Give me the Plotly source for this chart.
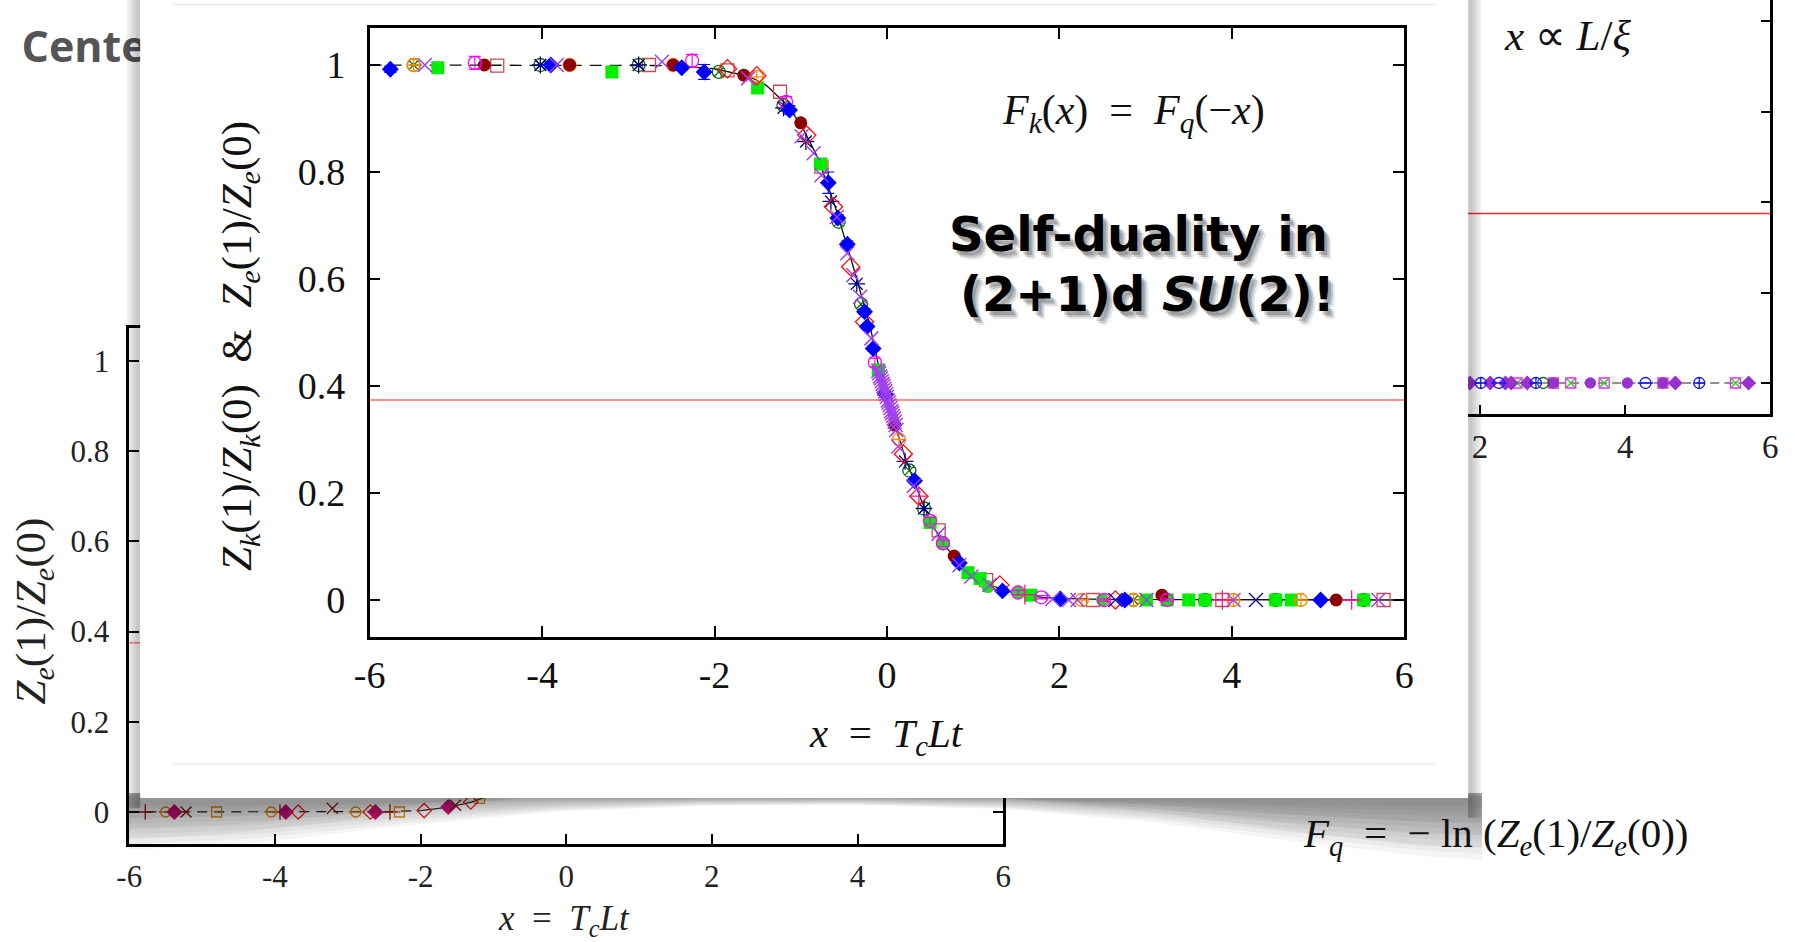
import plotly.graph_objects as go

W, H = 1795, 942

# ================= DATA =================
# --- main (front) plot: Z_k(1)/Z_k(0) & Z_e(1)/Z_e(0) vs x = T_c L t ---
main_xticks = [-6, -4, -2, 0, 2, 4, 6]
main_xticklabels = ["-6", "-4", "-2", "0", "2", "4", "6"]
main_yticks = [0, 0.2, 0.4, 0.6, 0.8, 1]
main_yticklabels = ["0", "0.2", "0.4", "0.6", "0.8", "1"]

fit_x = [-6, -4, -2.5, -2.0, -1.6, -1.4, -1.2, -1.0, -0.8, -0.6, -0.4, -0.2, -0.1, 0.0,
         0.1, 0.2, 0.3, 0.4, 0.5, 0.6, 0.7, 0.8, 1.0, 1.2, 1.4, 1.6, 1.8, 2.0, 2.5, 4.0, 6.0]
fit_y = [1.0, 1.0, 0.999, 0.993, 0.979, 0.962, 0.932, 0.89, 0.826, 0.735, 0.628, 0.515, 0.44, 0.375,
         0.325, 0.272, 0.228, 0.186, 0.148, 0.12, 0.096, 0.077, 0.047, 0.028, 0.016, 0.009, 0.005, 0.003, 0.001, 0.0, 0.0]
fit_split = -2.0
red_level_main = 0.374

blue_x = [-5.76, -3.90, -2.38, -2.12, -1.13, -0.68, -0.57, -0.46, -0.26, -0.23, -0.16, -0.02, 0.32, 0.84, 1.34, 2.01, 2.76, 5.03]
blue_y = [0.992, 1.0, 0.995, 0.987, 0.916, 0.78, 0.714, 0.665, 0.539, 0.511, 0.47, 0.385, 0.223, 0.069, 0.017, 0.002, 0.0, 0.0]
blue_err = [0.006, 0.003, 0.004, 0.014, 0.008, 0.02, 0.006, 0.006, 0.005, 0.004, 0.004, 0.004, 0.004, 0.003, 0.002, 0.001, 0.001, 0.001]

orange_x = [-5.49, -3.68, -2.48, -1.51, 0.14, 2.26, 2.86, 4.02, 4.80]
orange_y = [1.0, 1.0, 1.0, 0.978, 0.300, 0.0, 0.0, 0.0, 0.0]

purple_x = [-5.36, -3.83, -2.61, -1.61, -0.99, -0.85, -0.76, -0.58, -0.46, -0.39, -0.31, -0.18,
            -0.10, -0.09, -0.08, -0.07, -0.06, -0.05, -0.04, -0.03, -0.02, -0.01, 0.0, 0.01, 0.02,
            0.03, 0.04, 0.05, 0.06, 0.07, 0.08, 0.09, 0.10, 0.11, 0.13,
            0.31, 0.60, 0.84, 0.98, 1.19, 1.92, 2.11, 2.21, 3.01, 4.02, 5.70]
purple_y = [1.0, 1.0, 1.006, 0.975, 0.867, 0.835, 0.794, 0.716, 0.648, 0.607, 0.567, 0.489,
            0.428, 0.424, 0.418, 0.414, 0.409, 0.404, 0.4, 0.395, 0.39, 0.385, 0.38, 0.373, 0.369,
            0.364, 0.359, 0.353, 0.349, 0.344, 0.339, 0.333, 0.327, 0.318, 0.287,
            0.213, 0.124, 0.065, 0.044, 0.028, 0.002, 0.0, 0.0, 0.0, 0.0, 0.0]

green_x = [-5.21, -3.19, -1.50, -0.77, -0.10, 0.50, 0.94, 1.08, 1.67, 3.01, 3.25, 3.50, 3.69, 4.51, 4.69, 5.53]
green_y = [0.995, 0.987, 0.957, 0.815, 0.43, 0.145, 0.051, 0.04, 0.009, 0.0, 0.0, 0.0, 0.0, 0.0, 0.0, 0.0]

greenc_x = [0.65, 1.17, 1.52, 2.50]
greenc_y = [0.106, 0.025, 0.014, 0.0]

magenta_x = [-4.78, -2.26, -1.17, -0.14, 0.50, 0.65, 1.52, 1.79, 2.52, 3.25]
magenta_y = [1.004, 1.008, 0.931, 0.444, 0.148, 0.106, 0.014, 0.005, 0.0, 0.0]
magenta_err = [0.012, 0.012, 0.01, 0.008, 0.006, 0.006, 0.004, 0.003, 0.002, 0.002]

darkred_x = [-4.67, -3.68, -2.48, -1.66, -1.00, 0.09, 0.78, 3.19, 5.21]
darkred_y = [1.0, 1.0, 1.0, 0.981, 0.892, 0.327, 0.082, 0.009, 0.0]

rosy_x = [-4.52, -2.76, -1.85, -1.24, -0.76, 0.60, 1.15, 2.39, 3.89, 5.76]
rosy_y = [0.999, 1.0, 0.99, 0.95, 0.81, 0.13, 0.037, 0.0, 0.0, 0.0]

dkgreen_x = [-5.49, -4.02, -2.88, -1.95, -1.20, -0.56, -0.30, 0.26, 0.43, 0.65, 2.86, 3.69, 4.51, 5.53]
dkgreen_y = [1.0, 1.0, 1.0, 0.987, 0.925, 0.707, 0.553, 0.242, 0.171, 0.106, 0.0, 0.0, 0.0, 0.0]

navyast_x = [-4.02, -2.88, -1.20, -0.94, -0.65, -0.35, 0.21, 0.43]
navyast_y = [1.0, 1.0, 0.92, 0.857, 0.745, 0.591, 0.259, 0.171]

reddia_x = [-1.85, -1.51, -0.93, -0.62, -0.42, -0.26, 0.19, 0.37, 1.31, 2.65]
reddia_y = [0.993, 0.98, 0.869, 0.735, 0.623, 0.52, 0.273, 0.194, 0.028, 0.0]

pinkplus_x = [0.37, 1.60, 3.89, 5.39]
pinkplus_y = [0.194, 0.010, 0.0, 0.0]

navyx_x = [2.65, 4.28]
navyx_y = [0.0, 0.0]

# --- background left plot: Z_e(1)/Z_e(0) vs x ---
lb_xticks = [-6, -4, -2, 0, 2, 4, 6]
lb_xticklabels = ["-6", "-4", "-2", "0", "2", "4", "6"]
lb_yticks = [0, 0.2, 0.4, 0.6, 0.8, 1]
lb_yticklabels = ["0", "0.2", "0.4", "0.6", "0.8", "1"]
lb_fit_x = [-6.0, -4.0, -2.5, -2.0, -1.6, -1.3, -1.0, -0.5, 0.0]
lb_fit_y = [0.0, 0.0, 0.001, 0.003, 0.011, 0.022, 0.04, 0.12, 0.375]
lb_split = -2.0
lb_red_level = 0.375
lb_plus_x = [-5.78, -3.93, -2.42]
lb_plus_y = [0.0, 0.0, 0.0]
lb_ominus_x = [-5.50, -4.05, -2.89]
lb_ominus_y = [0.0, 0.0, 0.0]
lb_cdia_x = [-5.38, -3.85, -2.62, -1.62]
lb_cdia_y = [0.0, 0.0, 0.0, 0.011]
lb_x_x = [-5.22, -3.21, -1.52]
lb_x_y = [0.0, 0.008, 0.015]
lb_sq_x = [-4.80, -2.29, -1.19]
lb_sq_y = [0.0, 0.0, 0.03]
lb_rdia_x = [-3.68, -2.69, -1.95, -1.31]
lb_rdia_y = [0.0, 0.0, 0.003, 0.022]

# --- background right plot ---
rb_xticks = [-6, -4, -2, 0, 2, 4, 6]
rb_xticklabels = ["-6", "-4", "-2", "0", "2", "4", "6"]
rb_yticks = [0, 0.2, 0.4, 0.6, 0.8]
rb_red_level = 0.375
rb_line_x = [1.7, 5.8]
rb_line_y = [0.0, 0.0]
rb_pdia_x = [1.86, 2.14, 2.35, 2.43, 2.65, 4.69, 5.70]
rb_pdia_y = [0.0, 0.0, 0.0, 0.0, 0.0, 0.0, 0.0]
rb_oplus_x = [2.01, 2.77, 5.02]
rb_oplus_y = [0.0, 0.0, 0.0]
rb_ominus_x = [2.26, 4.28]
rb_ominus_y = [0.0, 0.0]
rb_msq_x = [2.51, 3.01, 3.25, 3.71, 4.52, 5.52]
rb_msq_y = [0.0, 0.0, 0.0, 0.0, 0.0, 0.0]
rb_pcirc_x = [3.01, 3.52, 4.03, 4.52]
rb_pcirc_y = [0.0, 0.0, 0.0, 0.0]
rb_dgc_x = [2.87]
rb_dgc_y = [0.0]

# ================= LAYOUT HELPERS =================
# horizontal calibration of the rendered page (measured): out = X0 + K * set
X0, K = 12.5, 0.9884


def cx(px):
    return (px - X0) / K


def dx(a, b):
    return [cx(a) / W, cx(b) / W]


def dy(top, bottom):
    return [1 - bottom / H, 1 - top / H]


SERIF = "Liberation Serif"
fig = go.Figure()


def sc(x, y, ax, **kw):
    kw.setdefault("mode", "markers")
    fig.add_trace(go.Scatter(x=x, y=y, xaxis="x" + ax, yaxis="y" + ax,
                             hoverinfo="skip", showlegend=False, cliponaxis=True, **kw))


def mk(symbol, color, size=13, lw=1.3):
    return dict(symbol=symbol, color=color, size=size, line=dict(color=color, width=lw))


# ---- subplot 1 (pixel space, behind everything): slide title fragment ----
fig.add_trace(go.Scatter(x=[18], y=[51], mode="text", text=["Center"], textposition="middle right",
                         textfont=dict(family="Open Sans", size=43, color="#555555", weight="bold"),
                         xaxis="x", yaxis="y", hoverinfo="skip", showlegend=False))

# ---- subplot 2: background left plot ----
lb_dash_x = [v for v in lb_fit_x if v <= lb_split]
lb_dash_y = [lb_fit_y[i] for i, v in enumerate(lb_fit_x) if v <= lb_split]
lb_sol_x = [v for v in lb_fit_x if v >= lb_split]
lb_sol_y = [lb_fit_y[i] for i, v in enumerate(lb_fit_x) if v >= lb_split]
sc([-6, 6], [lb_red_level, lb_red_level], "2", mode="lines", line=dict(color="#ff6a6a", width=1.3))
sc(lb_dash_x, lb_dash_y, "2", mode="lines", line=dict(color="#222", width=1.2, dash="10px,7px"))
sc(lb_sol_x, lb_sol_y, "2", mode="lines", line=dict(color="#222", width=1.2))
sc(lb_plus_x, lb_plus_y, "2", marker=mk("cross-thin-open", "#a01818", 11))
sc(lb_ominus_x, lb_ominus_y, "2", marker=mk("circle-open", "#e08a10", 10))
sc(lb_ominus_x, lb_ominus_y, "2", marker=mk("line-ew-open", "#e08a10", 10))
sc(lb_cdia_x, lb_cdia_y, "2", marker=mk("diamond", "#c8147c", 11))
sc(lb_x_x, lb_x_y, "2", marker=mk("x-thin-open", "#8b1010", 11))
sc(lb_sq_x, lb_sq_y, "2", marker=mk("square-open-dot", "#e08a10", 10))
sc(lb_rdia_x, lb_rdia_y, "2", marker=mk("diamond-open", "#ee2020", 11))

# ---- subplot 3: background right plot ----
sc([-6, 6], [rb_red_level, rb_red_level], "3", mode="lines", line=dict(color="#ff2a2a", width=1.3))
sc(rb_line_x, rb_line_y, "3", mode="lines", line=dict(color="#222", width=1.2, dash="9px,5px"))
sc(rb_msq_x, rb_msq_y, "3", marker=mk("square-open", "#ff20ff", 10))
sc(rb_msq_x, rb_msq_y, "3", marker=mk("x-thin-open", "#20d020", 9))
sc(rb_pcirc_x, rb_pcirc_y, "3", marker=mk("circle", "#9932cc", 10))
sc(rb_pdia_x, rb_pdia_y, "3", marker=mk("diamond", "#9932cc", 10))
sc(rb_oplus_x, rb_oplus_y, "3", marker=mk("circle-cross-open", "#1010ff", 11))
sc(rb_ominus_x, rb_ominus_y, "3", marker=mk("circle-open", "#1010ff", 11))
sc(rb_ominus_x, rb_ominus_y, "3", marker=mk("line-ew-open", "#1010ff", 11))
sc(rb_dgc_x, rb_dgc_y, "3", marker=mk("circle-open", "#106010", 11))

# ---- subplot 4: the front panel (pixel space) ----
fig.add_trace(go.Scatter(x=[100], y=[100], mode="markers", marker=dict(opacity=0),
                         xaxis="x4", yaxis="y4", hoverinfo="skip", showlegend=False))

# ---- subplot 5: main plot ----
dash_x = [v for v in fit_x if v <= fit_split]
dash_y = [fit_y[i] for i, v in enumerate(fit_x) if v <= fit_split]
sol_x = [v for v in fit_x if v >= fit_split]
sol_y = [fit_y[i] for i, v in enumerate(fit_x) if v >= fit_split]
sc([-6, 6], [red_level_main, red_level_main], "5", mode="lines", line=dict(color="#ff6a6a", width=1.5))
sc(dash_x, dash_y, "5", mode="lines", line=dict(color="#111", width=1.3, dash="12px,8px"))
sc(sol_x, sol_y, "5", mode="lines", line=dict(color="#111", width=1.3))

sc(rosy_x, rosy_y, "5", marker=mk("square-open", "#c05050", 13))
sc(dkgreen_x, dkgreen_y, "5", marker=mk("circle-x-open", "#107010", 13))
sc(navyast_x, navyast_y, "5", marker=mk("asterisk-open", "#000080", 14))
sc(green_x, green_y, "5", marker=mk("square", "#00ee00", 13, 0))
sc(greenc_x, greenc_y, "5", marker=mk("circle", "#22dd22", 13, 0))
sc(orange_x, orange_y, "5", marker=mk("circle-cross-open", "#ff8c00", 13))
sc(darkred_x, darkred_y, "5", marker=mk("circle", "#8b0000", 13, 0))
sc(reddia_x, reddia_y, "5", marker=mk("diamond-open", "#ff1010", 14))
sc(magenta_x, magenta_y, "5", marker=mk("circle-open", "#ff00ff", 13),
   error_y=dict(type="data", array=magenta_err, color="#ff00ff", thickness=1.2, width=6))
sc(blue_x, blue_y, "5", marker=mk("diamond", "#0000ff", 13, 0),
   error_y=dict(type="data", array=blue_err, color="#0000ff", thickness=1.2, width=6))
sc(pinkplus_x, pinkplus_y, "5", marker=mk("cross-thin-open", "#ff1493", 14))
sc(navyx_x, navyx_y, "5", marker=mk("x-thin-open", "#1010a0", 14))
sc(purple_x, purple_y, "5", marker=mk("x-thin-open", "#a040f0", 14, 1.5))

# ================= AXES =================
PXR = [X0, X0 + K * W]  # pixel-space x range matching rendered output coordinates
pix = dict(visible=False, showgrid=False, zeroline=False, fixedrange=True)
frame = dict(showgrid=False, zeroline=False, showline=True, linecolor="black", linewidth=2.5,
             ticks="inside", tickcolor="black", tickwidth=1.5, mirror="ticks")

fig.update_layout(
    width=W, height=H, margin=dict(l=0, r=0, t=0, b=0),
    paper_bgcolor="white", plot_bgcolor="rgba(0,0,0,0)", showlegend=False,
    xaxis=dict(domain=[0, 1], range=PXR, anchor="y", **pix),
    yaxis=dict(domain=[0, 1], range=[H, 0], anchor="x", **pix),
    xaxis4=dict(domain=[0, 1], range=PXR, anchor="y4", **pix),
    yaxis4=dict(domain=[0, 1], range=[H, 0], anchor="x4", **pix),
    # left background plot
    xaxis2=dict(domain=dx(126, 1002), range=[-6, 6], anchor="y2", tickvals=lb_xticks, ticktext=lb_xticklabels,
                ticklen=10, ticklabelstandoff=3, tickfont=dict(family=SERIF, size=31, color="#222"), **frame),
    yaxis2=dict(domain=dy(328, 844), range=[-0.071, 1.073], anchor="x2", tickvals=lb_yticks, ticktext=lb_yticklabels,
                ticklen=10, ticklabelstandoff=11, tickfont=dict(family=SERIF, size=31, color="#222"), **frame),
    # right background plot
    xaxis3=dict(domain=dx(898, 1771), range=[-6, 6], anchor="y3", tickvals=rb_xticks, ticktext=rb_xticklabels,
                ticklen=9, ticklabelstandoff=2, tickfont=dict(family=SERIF, size=33, color="#222"),
                showgrid=False, zeroline=False, showline=True, linecolor="black", linewidth=2.5,
                ticks="inside", tickcolor="black", tickwidth=1.5, mirror=False),
    yaxis3=dict(domain=dy(0, 414), range=[-0.0686, 0.8473], anchor="x3", tickvals=rb_yticks,
                showticklabels=False, ticklen=10, **frame),
    # main plot
    xaxis5=dict(domain=dx(367, 1404), range=[-6, 6], anchor="y5", tickvals=main_xticks, ticktext=main_xticklabels,
                ticklen=11, ticklabelstandoff=3, tickfont=dict(family=SERIF, size=38, color="#111"), **frame),
    yaxis5=dict(domain=dy(28, 637), range=[-0.0692, 1.0692], anchor="x5", tickvals=main_yticks,
                ticktext=main_yticklabels, ticklen=11, ticklabelstandoff=14,
                tickfont=dict(family=SERIF, size=38, color="#111"), **frame),
)

# ================= PANEL + SHADOWS (shapes in subplot 4, pixel coords) =================
PX0, PX1, PY0, PY1 = 137, 1468, 0, 798
shapes = []


def rect(x0, y0, x1, y1, color):
    shapes.append(dict(type="rect", xref="x4", yref="y4", x0=x0, y0=y0, x1=x1, y1=y1,
                       fillcolor=color, line=dict(width=0), layer="below"))


def poly(pts, color):
    d = "M " + " L ".join(f"{a},{b}" for a, b in pts) + " Z"
    shapes.append(dict(type="path", xref="x4", yref="y4", path=d, fillcolor=color,
                       line=dict(width=0), layer="below"))


# side shadows
for w in [14, 12, 10, 8, 6, 4]:
    rect(PX0 - w, PY0, PX0, PY1 + 10, "rgba(0,0,0,0.038)")
    rect(PX1, PY0, PX1 + w, PY1 + 20, "rgba(0,0,0,0.038)")

# bottom curled shadow (nested translucent layers)
edge_x = [124, 250, 400, 550, 700, 850, 1000, 1150, 1300, 1420, 1482]
edge_y = [850, 843, 826, 812, 806, 805, 809, 822, 842, 856, 860]
for k in [1.0, 0.9, 0.8, 0.7, 0.6, 0.5, 0.4, 0.3, 0.22, 0.15]:
    pts = [(edge_x[0], PY1 - 5)] + [(edge_x[i], PY1 + (edge_y[i] - PY1) * k) for i in range(len(edge_x))] + [(edge_x[-1], PY1 - 5)]
    poly(pts, "rgba(0,0,0,0.04)")
lobeL_x = [124, 124, 220, 330, 440, 520]
lobeL_y = [795, 838, 834, 822, 806, 798]
lobeR_x = [1000, 1150, 1300, 1420, 1482, 1482]
lobeR_y = [798, 812, 832, 846, 848, 795]
for k in [1.0, 0.75, 0.5]:
    poly([(lobeL_x[i], PY1 + (lobeL_y[i] - PY1) * k) for i in range(len(lobeL_x))], "rgba(0,0,0,0.04)")
    poly([(lobeR_x[i], PY1 + (lobeR_y[i] - PY1) * k) for i in range(len(lobeR_x))], "rgba(0,0,0,0.045)")

# white panel
rect(PX0, PY0, PX1, PY1, "white")
shapes.append(dict(type="line", xref="x4", yref="y4", x0=170, x1=1435, y0=4.5, y1=4.5,
                   line=dict(color="#e9e9e9", width=1.5), layer="below"))
shapes.append(dict(type="line", xref="x4", yref="y4", x0=170, x1=1435, y0=764, y1=764,
                   line=dict(color="#eeeeee", width=1.5), layer="below"))
fig.update_layout(shapes=shapes)

# ================= TEXT =================
ann = []
EN = "\u2002"


def txt(x, y, t, size=40, angle=0, color="#111", family=SERIF, xanchor="center"):
    ann.append(dict(x=x, y=y, xref="x4", yref="y4", text=t, showarrow=False, textangle=angle,
                    xanchor=xanchor, yanchor="middle", font=dict(family=family, size=size, color=color)))


# main plot titles
txt(885, 736, f"<i>x</i>{EN}={EN}<i>T<sub>c</sub>Lt</i>", 41)
txt(237, 346, f"<i>Z<sub>k</sub></i>(1)/<i>Z<sub>k</sub></i>(0){EN}&amp;{EN}<i>Z<sub>e</sub></i>(1)/<i>Z<sub>e</sub></i>(0)", 43, -90)
txt(1133, 113, f"<i>F<sub>k</sub></i>(<i>x</i>){EN}={EN}<i>F<sub>q</sub></i>(−<i>x</i>)", 42)

# shadowed headline
line1 = "<b>Self-duality in</b>"
line2 = "<b>(2+1)d <i>SU</i>(2)!</b>"
for off, a in [(7, 0.10), (5, 0.16), (3, 0.2)]:
    txt(1138 + off, 234 + off + 1, line1, 48, color=f"rgba(0,0,0,{a})", family="DejaVu Sans")
    txt(1147 + off, 294 + off + 1, line2, 48, color=f"rgba(0,0,0,{a})", family="DejaVu Sans")
txt(1138, 234, line1, 48, color="black", family="DejaVu Sans")
txt(1147, 294, line2, 48, color="black", family="DejaVu Sans")

# background plots' texts
txt(562, 920, f"<i>x</i>{EN}={EN}<i>T<sub>c</sub>Lt</i>", 35, color="#222")
txt(31, 611, "<i>Z<sub>e</sub></i>(1)/<i>Z<sub>e</sub></i>(0)", 43, -90, color="#222")
txt(1568, 35, "<i>x</i> ∝ <i>L</i>/<i>ξ</i>", 43, color="#111")
txt(1495, 836, f"<i>F<sub>q</sub></i>{EN}={EN}− ln (<i>Z<sub>e</sub></i>(1)/<i>Z<sub>e</sub></i>(0))", 41, color="#111")

fig.update_layout(annotations=ann)

fig.write_html("out.html")
